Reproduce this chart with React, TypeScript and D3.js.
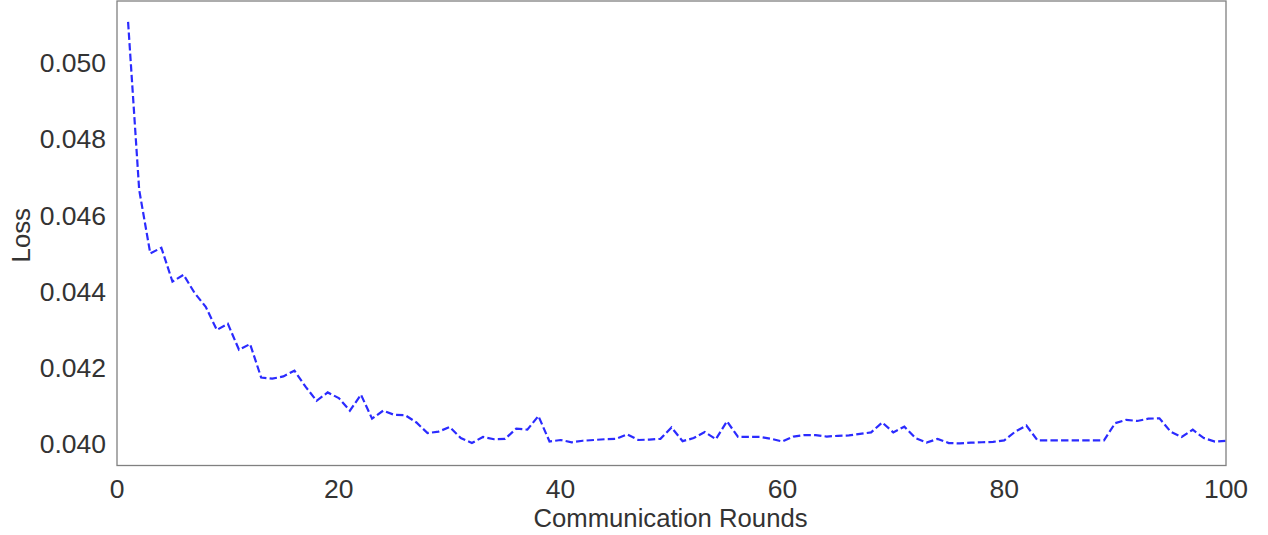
import * as d3 from "d3";

// loss per communication round, rounds 1..100
const rounds = d3.range(1, 101);
const loss = [
  0.05108, 0.04667, 0.045, 0.04515, 0.04426, 0.04444, 0.04396, 0.0436, 0.04299, 0.04315,
  0.04247, 0.04262, 0.04174, 0.04171, 0.04177, 0.04192, 0.0415, 0.04113, 0.04135, 0.0412,
  0.04087, 0.04129, 0.04066, 0.04087, 0.04076, 0.04075, 0.04056, 0.04028, 0.04032, 0.04044,
  0.04015, 0.04002, 0.04018, 0.04012, 0.04013, 0.0404, 0.04037, 0.04073, 0.04006, 0.0401,
  0.04004, 0.04008, 0.0401, 0.04012, 0.04013, 0.04025, 0.0401, 0.04011, 0.04013, 0.04043,
  0.04007, 0.04015, 0.04031, 0.04012, 0.04059, 0.04018, 0.04018, 0.04018, 0.04013, 0.04006,
  0.04019, 0.04023, 0.04023, 0.04019, 0.04021, 0.04022, 0.04026, 0.0403, 0.04056, 0.0403,
  0.04045, 0.04015, 0.04003, 0.04013, 0.04002, 0.04001, 0.04003, 0.04004, 0.04005, 0.04009,
  0.04032, 0.04048, 0.04009, 0.04009, 0.04009, 0.04009, 0.04009, 0.04009, 0.04009, 0.04054,
  0.04063, 0.0406, 0.04066, 0.04067, 0.04032, 0.04018, 0.04037, 0.04015, 0.04006, 0.04008,
];
const xTicks = [0, 20, 40, 60, 80, 100];
const yTicks = [0.04, 0.042, 0.044, 0.046, 0.048, 0.05];

const WIDTH = 1268;
const HEIGHT = 535;
const LEFT = 117;
const RIGHT = 1226;
const TOP = 1;
const BOTTOM = 465.5;
const FONT = "'Liberation Sans', Arial, sans-serif";
const TEXT = "#333333";

export default function App() {
  const x = d3.scaleLinear().domain([0, 100]).range([LEFT, RIGHT]);
  const y = d3.scaleLinear().domain([0.03943, 0.05163]).range([BOTTOM, TOP]);

  const line = d3
    .line<number>()
    .x((_, i) => x(rounds[i]))
    .y((d) => y(d));

  return (
    <svg
      width={WIDTH}
      height={HEIGHT}
      style={{ position: "absolute", left: 0, top: 0, background: "#fff" }}
      fontFamily={FONT}
    >
      <path
        d={line(loss) || undefined}
        fill="none"
        stroke="#2b2bff"
        strokeWidth={2.2}
        strokeDasharray="7.4 3.2"
      />
      <rect
        x={LEFT}
        y={TOP}
        width={RIGHT - LEFT}
        height={BOTTOM - TOP}
        fill="none"
        stroke="#808080"
        strokeWidth={1.3}
      />
      {yTicks.map((t) => (
        <text
          key={t}
          x={LEFT - 11}
          y={y(t)}
          dy="0.35em"
          textAnchor="end"
          fontSize={26.5}
          fill={TEXT}
        >
          {d3.format(".3f")(t)}
        </text>
      ))}
      {xTicks.map((t) => (
        <text
          key={t}
          x={x(t)}
          y={498}
          textAnchor="middle"
          fontSize={26.5}
          fill={TEXT}
        >
          {t}
        </text>
      ))}
      <text x={(LEFT + RIGHT) / 2 - 1} y={527} textAnchor="middle" fontSize={25.7} fill={TEXT}>
        Communication Rounds
      </text>
      <text
        transform={`translate(30,${(TOP + BOTTOM) / 2 + 2}) rotate(-90)`}
        textAnchor="middle"
        fontSize={25.7}
        fill={TEXT}
      >
        Loss
      </text>
    </svg>
  );
}
